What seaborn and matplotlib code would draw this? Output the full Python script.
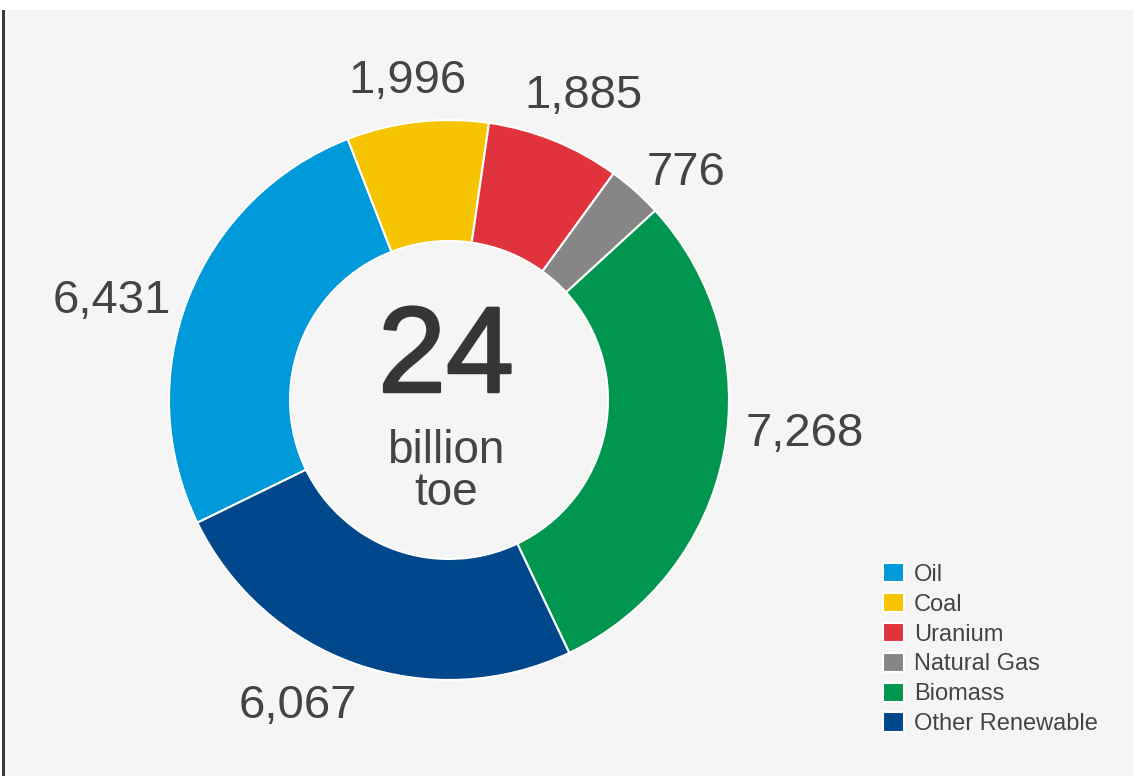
import matplotlib
matplotlib.use("Agg")
import matplotlib.pyplot as plt
import matplotlib.patheffects as pe
import seaborn as sns
from matplotlib.patches import Rectangle

categories = ["Oil", "Coal", "Uranium", "Natural Gas", "Biomass", "Other Renewable"]
values = [6431, 1996, 1885, 776, 7268, 6067]
value_labels = ["6,431", "1,996", "1,885", "776", "7,268", "6,067"]
colors = ["#0099d9", "#f6c400", "#e1333d", "#868686", "#00964f", "#00478b"]
center_value = "24"
center_unit = "billion\ntoe"

sns.set_theme(style="white")
plt.rcParams["font.family"] = ["Liberation Sans", "DejaVu Sans"]

W, H = 1137, 776
fig = plt.figure(figsize=(W / 100, H / 100), dpi=100, facecolor="white")
ax = fig.add_axes([0, 0, 1, 1])

# panel background and left rule
ax.add_patch(Rectangle((4, 0), W - 8, H - 10, facecolor="#f5f5f5", edgecolor="none", zorder=0))
ax.add_patch(Rectangle((2, 0), 3, H - 10, facecolor="#3a3a3a", edgecolor="none", zorder=1))

cx, cy, r = 449, H - 400, 280
wedges, _ = ax.pie(values, colors=colors, startangle=206, counterclock=False,
                   center=(cx, cy), radius=r, frame=True,
                   wedgeprops=dict(width=121, edgecolor="white", linewidth=1.5))
ax.set_xlim(0, W)
ax.set_ylim(0, H)
ax.set_aspect("equal")
ax.axis("off")

label_pos = [(112, 301), (407, 81), (583, 96), (686, 173), (805, 434), (298, 706)]
for (x, y), txt in zip(label_pos, value_labels):
    ax.text(x, H - y, txt, fontsize=34, color="#444444", ha="center", va="center")

ax.text(cx - 3, H - 360, center_value, fontsize=88, color="#363636", ha="center",
        va="center", fontweight="normal",
        path_effects=[pe.withStroke(linewidth=1.8, foreground="#363636")])
ax.text(cx - 3, H - 472, center_unit, fontsize=33, color="#444444", ha="center",
        va="center", linespacing=0.95)

leg = ax.legend(wedges, categories, loc="upper left",
                bbox_to_anchor=(883 / W, 1 - 563 / H), frameon=False,
                fontsize=17, handlelength=0.88, handleheight=0.88,
                handletextpad=0.42, labelspacing=0.3, borderpad=0,
                borderaxespad=0)
for t in leg.get_texts():
    t.set_color("#444444")

fig.savefig("out.png", dpi=100, facecolor="white")
